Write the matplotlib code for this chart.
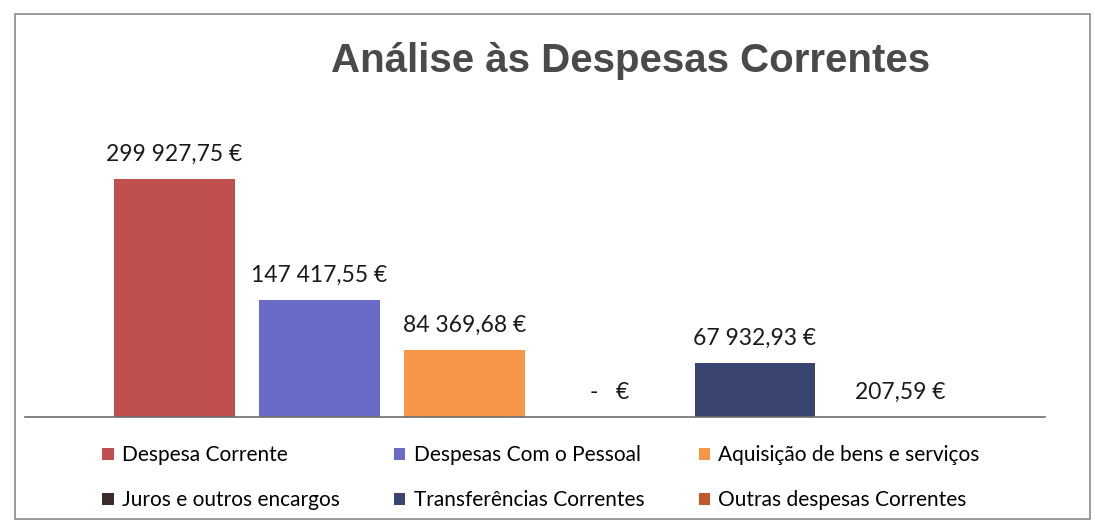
import matplotlib.pyplot as plt
from matplotlib.patches import Patch, Rectangle

# Data
categories = ['Despesa Corrente', 'Despesas Com o Pessoal', 'Aquisição de bens e serviços',
              'Juros e outros encargos', 'Transferências Correntes', 'Outras despesas Correntes']
values = [299927.75, 147417.55, 84369.68, 0.0, 67932.93, 207.59]
colors = ['#C0504D', '#6A6BC6', '#F79646', '#3D2B2B', '#3A4470', '#C0582F']


def euro(v):
    # portuguese style: space as thousands sep, comma as decimal
    if v == 0:
        return '-   €'
    s = '{:,.2f}'.format(v)
    s = s.replace(',', ' ').replace('.', ',')
    return s + ' €'


lbl_font = ['Lato', 'DejaVu Sans']

fig = plt.figure(figsize=(10.95, 5.29), dpi=100)
ax = fig.add_axes([25 / 1095, 112 / 529, 1020 / 1095, 290 / 529])

x = list(range(len(values)))
bars = ax.bar(x, values, width=0.83, color=colors)
for xi, v in zip(x, values):
    ax.annotate(euro(v), (xi, v), xytext=(0, 10), textcoords='offset points',
                ha='center', va='bottom', fontsize=16.5, color='#1a1a1a', family=lbl_font)

ax.set_xlim(-1.03, 6.0)
ax.set_ylim(0, 365000)
for s in ['top', 'left', 'right']:
    ax.spines[s].set_visible(False)
ax.spines['bottom'].set_color('#6e6e6e')
ax.spines['bottom'].set_linewidth(1.2)
ax.set_xticks([])
ax.set_yticks([])

fig.text(0.576, 0.885, 'Análise às Despesas Correntes', ha='center', va='center',
         fontsize=29, fontweight='bold', color='#4a4a4a', family='Liberation Sans')

# legend filled row by row like the original
order = [0, 3, 1, 4, 2, 5]
handles = [Patch(facecolor=colors[i], edgecolor='none') for i in order]
labels = [categories[i] for i in order]
fig.legend(handles, labels, ncol=3, loc='center', bbox_to_anchor=(0.494, 0.097),
           frameon=False, prop={'family': lbl_font, 'size': 15},
           handlelength=0.55, handleheight=0.55, handletextpad=0.4,
           columnspacing=2.6, labelspacing=1.2)

# outer frame of the chart
fig.patches.append(Rectangle((15 / 1095, 10 / 529), 1075 / 1095, 505 / 529,
                             transform=fig.transFigure, fill=False,
                             edgecolor='#8a8a8a', linewidth=1.2))

fig.savefig('out.png', dpi=100)
